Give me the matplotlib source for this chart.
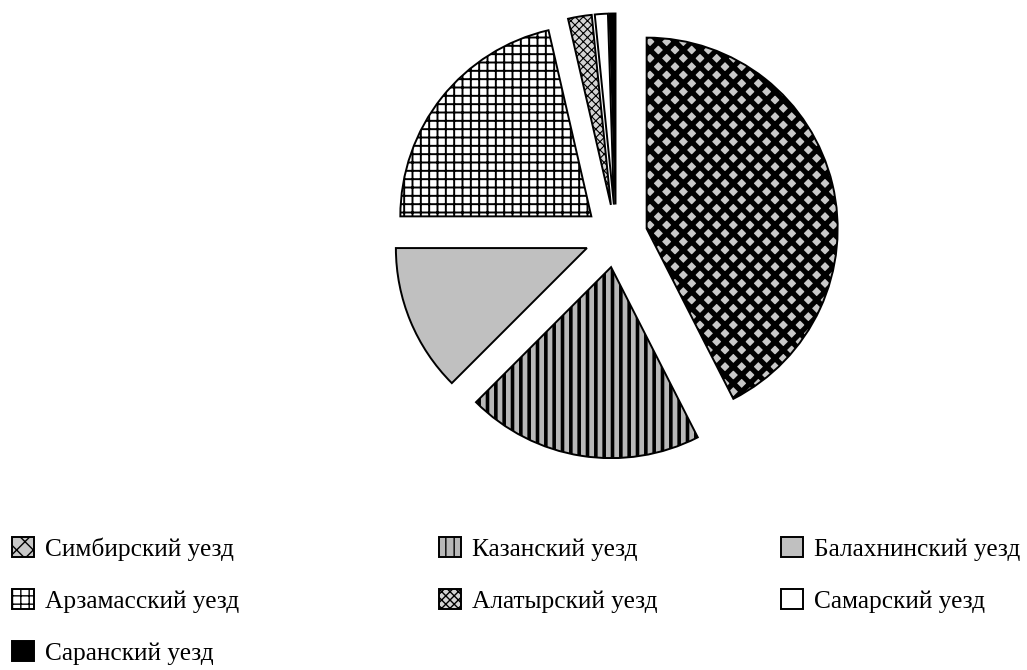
import matplotlib.pyplot as plt
import matplotlib as mpl

uezdy = ["Симбирский уезд", "Казанский уезд", "Балахнинский уезд",
         "Арзамасский уезд", "Алатырский уезд", "Самарский уезд",
         "Саранский уезд"]
doli = [42.5, 20.0, 12.5, 21.4, 2.0, 1.1, 0.5]

colors = ["#c8c8c8", "#b8b8b8", "#c0c0c0", "white", "#d4d4d4", "white", "black"]
hatches = ["xx", "||", None, "++", "xxxx", None, None]
hatch_lw = [3.8, 2.6, 1.0, 1.4, 0.8, 1.0, 1.0]

plt.rcParams['font.family'] = ['Liberation Serif', 'DejaVu Serif']
plt.rcParams['hatch.color'] = 'black'

W, H = 1027, 670
fig = plt.figure(figsize=(W / 100, H / 100), dpi=100)

# центр круга и радиус в пикселях
cx, cy, R = 616, 236, 191
lim = 1.3
ax = fig.add_axes([(cx - lim * R) / W, (H - cy - lim * R) / H,
                   2 * lim * R / W, 2 * lim * R / H])
wedges, _ = ax.pie(doli, startangle=90, counterclock=False, colors=colors,
                   explode=[0.165] * len(doli),
                   wedgeprops=dict(edgecolor='black', linewidth=1.4))
for w, h, lw in zip(wedges, hatches, hatch_lw):
    if h:
        w.set_hatch(h)
    if hasattr(w, 'set_hatch_linewidth'):
        w.set_hatch_linewidth(lw)
ax.set_xlim(-lim, lim)
ax.set_ylim(-lim, lim)
ax.set_aspect('equal')
ax.axis('off')

# легенда: три колонки
cols = [[0, 3, 6], [1, 4], [2, 5]]
col_x = [12, 439, 781]
top = 537
for idx, x in zip(cols, col_x):
    leg = fig.legend([wedges[i] for i in idx], [uezdy[i] for i in idx],
                     loc='upper left', bbox_to_anchor=(x / W, 1 - top / H),
                     bbox_transform=fig.transFigure, frameon=False,
                     borderpad=0, borderaxespad=0, fontsize=18.3,
                     handlelength=0.85, handleheight=0.85,
                     handletextpad=0.45, labelspacing=1.1)

fig.savefig("out.png", dpi=100)
